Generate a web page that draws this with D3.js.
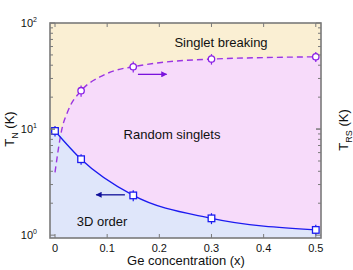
<!DOCTYPE html>
<html>
<head>
<meta charset="utf-8">
<script src="https://cdn.jsdelivr.net/npm/d3@7"></script>
<style>
  body { margin: 0; background: #fff; }
  svg { display: block; font-family: "Liberation Sans", Arial, sans-serif; }
</style>
</head>
<body>
<svg id="chart" width="353" height="270"></svg>
<script>
// measured points
var geX      = [0, 0.05, 0.15, 0.3, 0.5];
var tN       = [9.6, 5.2, 2.37, 1.44, 1.12];
var tNErr    = [1.1, 0.6, 0.28, 0.17, 0.13];
var rsX      = [0.05, 0.15, 0.3, 0.5];
var tRS      = [23, 38.7, 45.7, 48];
var tRSErr   = [2.8, 4.6, 5.2, 5.2];
// dashed guide for T_RS
var rsCurveX = [0, 0.0128, 0.0256, 0.05, 0.086, 0.118, 0.15, 0.2, 0.3, 0.4, 0.5];
var rsCurveY = [3.9, 9.8, 15.1, 23, 31, 36, 38.7, 42.2, 45.7, 47.2, 48];
var xTicks   = [0, 0.1, 0.2, 0.3, 0.4, 0.5];
var yMajor   = [1, 10, 100];
var yExp     = ["0", "1", "2"];

var svg = d3.select("#chart");
var margin = {left: 50, right: 32, top: 23, bottom: 32};
var width = +svg.attr("width"), height = +svg.attr("height");
var x0 = margin.left, x1 = width - margin.right, y0 = margin.top, y1 = height - margin.bottom;

var x = d3.scaleLinear().domain([-0.0096, 0.51]).range([x0, x1]);
var y = d3.scaleLog().domain([0.94, 100]).range([y1, y0]);

var defs = svg.append("defs");
defs.append("clipPath").attr("id", "plotclip")
  .append("rect").attr("x", x0).attr("y", y0).attr("width", x1 - x0).attr("height", y1 - y0);

var plot = svg.append("g").attr("clip-path", "url(#plotclip)");

/*
  background regions
*/
plot.append("rect")
  .attr("x", x0).attr("y", y0)
  .attr("width", x1 - x0).attr("height", y1 - y0)
  .style("fill", "#faefd3");

var rsPts = rsCurveX.map(function(d, i) { return [d, rsCurveY[i]]; });
var rsFill = rsPts.concat([[0.51, 48.1]]);
plot.append("path")
  .datum(rsFill)
  .attr("d", d3.area()
    .x(function(d) { return x(d[0]); })
    .y0(y1)
    .y1(function(d) { return y(d[1]); })
    .curve(d3.curveMonotoneX))
  .style("fill", "#f7dbfa");

var tnPts = geX.map(function(d, i) { return [d, tN[i]]; });
var tnFill = [[-0.0096, tN[0]]].concat(tnPts).concat([[0.51, tN[tN.length - 1]]]);
plot.append("path")
  .datum(tnFill)
  .attr("d", d3.area()
    .x(function(d) { return x(d[0]); })
    .y0(y1)
    .y1(function(d) { return y(d[1]); })
    .curve(d3.curveMonotoneX))
  .style("fill", "#dfe6fa");

/*
  curves
*/
plot.append("path")
  .datum(rsPts)
  .attr("d", d3.line()
    .x(function(d) { return x(d[0]); })
    .y(function(d) { return y(d[1]); })
    .curve(d3.curveMonotoneX))
  .style("fill", "none")
  .style("stroke", "#9b35e3")
  .style("stroke-width", 1.4)
  .style("stroke-dasharray", "6,4");

plot.append("path")
  .datum(tnPts)
  .attr("d", d3.line()
    .x(function(d) { return x(d[0]); })
    .y(function(d) { return y(d[1]); })
    .curve(d3.curveMonotoneX))
  .style("fill", "none")
  .style("stroke", "#1b1bf0")
  .style("stroke-width", 1.3);

/*
  error bars + markers
*/
svg.append("g").selectAll("line")
  .data(geX).enter().append("line")
  .attr("x1", function(d) { return x(d); }).attr("x2", function(d) { return x(d); })
  .attr("y1", function(d, i) { return y(tN[i] + tNErr[i]); })
  .attr("y2", function(d, i) { return y(tN[i] - tNErr[i]); })
  .style("stroke", "#1b1bf0").style("stroke-width", 1.2);

svg.append("g").selectAll("rect")
  .data(geX).enter().append("rect")
  .attr("x", function(d) { return x(d) - 3.3; })
  .attr("y", function(d, i) { return y(tN[i]) - 3.3; })
  .attr("width", 6.6).attr("height", 6.6)
  .style("fill", "#fff").style("stroke", "#1b1bf0").style("stroke-width", 1.3);

svg.append("g").selectAll("line")
  .data(rsX).enter().append("line")
  .attr("x1", function(d) { return x(d); }).attr("x2", function(d) { return x(d); })
  .attr("y1", function(d, i) { return y(tRS[i] + tRSErr[i]); })
  .attr("y2", function(d, i) { return y(tRS[i] - tRSErr[i]); })
  .style("stroke", "#8a1fe6").style("stroke-width", 1.2);

svg.append("g").selectAll("circle")
  .data(rsX).enter().append("circle")
  .attr("cx", function(d) { return x(d); })
  .attr("cy", function(d, i) { return y(tRS[i]); })
  .attr("r", 3.2)
  .style("fill", "#fff").style("stroke", "#8a1fe6").style("stroke-width", 1.3);

/*
  arrows
*/
function arrowHead(id, color) {
  defs.append("marker")
    .attr("id", id)
    .attr("viewBox", "0 0 10 10")
    .attr("refX", 9).attr("refY", 5)
    .attr("markerWidth", 10).attr("markerHeight", 6)
    .attr("markerUnits", "userSpaceOnUse")
    .attr("orient", "auto")
    .append("path").attr("d", "M0,0L10,5L0,10z").style("fill", color);
}
arrowHead("headP", "#7a12dc");
arrowHead("headB", "#10109a");

svg.append("line")
  .attr("x1", x(0.159)).attr("x2", x(0.214))
  .attr("y1", y(32.8)).attr("y2", y(32.8))
  .style("stroke", "#7a12dc").style("stroke-width", 1.3)
  .attr("marker-end", "url(#headP)");

svg.append("line")
  .attr("x1", x(0.134)).attr("x2", x(0.079))
  .attr("y1", y(2.4)).attr("y2", y(2.4))
  .style("stroke", "#10109a").style("stroke-width", 1.3)
  .attr("marker-end", "url(#headB)");

/*
  region labels
*/
svg.append("text").attr("x", 221).attr("y", 47).attr("text-anchor", "middle")
  .style("font-size", "13px").style("fill", "#111").text("Singlet breaking");
svg.append("text").attr("x", 172).attr("y", 139).attr("text-anchor", "middle")
  .style("font-size", "13px").style("fill", "#111").text("Random singlets");
svg.append("text").attr("x", 102).attr("y", 226).attr("text-anchor", "middle")
  .style("font-size", "13px").style("fill", "#111").text("3D order");

/*
  frame and ticks
*/
var axisColor = "#7a7a7a";
var ticks = svg.append("g").style("stroke", axisColor).style("stroke-width", 1);

xTicks.forEach(function(t) {
  ticks.append("line").attr("x1", x(t)).attr("x2", x(t)).attr("y1", y1).attr("y2", y1 - 4);
  ticks.append("line").attr("x1", x(t)).attr("x2", x(t)).attr("y1", y0).attr("y2", y0 + 4);
});

[1, 10].forEach(function(dec) {
  for (var k = 1; k <= 10; k++) {
    var v = dec * k;
    if (v < 0.94 || v > 100) continue;
    var len = (k === 1 || k === 10) ? 5 : 3;
    ticks.append("line").attr("x1", x0).attr("x2", x0 + len).attr("y1", y(v)).attr("y2", y(v));
    ticks.append("line").attr("x1", x1).attr("x2", x1 - len).attr("y1", y(v)).attr("y2", y(v));
  }
});

svg.append("rect")
  .attr("x", x0).attr("y", y0)
  .attr("width", x1 - x0).attr("height", y1 - y0)
  .style("fill", "none").style("stroke", axisColor).style("stroke-width", 1.6);

/*
  tick labels
*/
svg.append("g").selectAll("text")
  .data(xTicks).enter().append("text")
  .attr("x", function(d) { return x(d); })
  .attr("y", 252)
  .attr("text-anchor", "middle")
  .style("font-size", "11px").style("fill", "#111")
  .text(function(d) { return d === 0 ? "0" : d3.format(".1f")(d); });

var yl = svg.append("g").selectAll("text")
  .data(yMajor).enter().append("text")
  .attr("x", 37)
  .attr("y", function(d) { return y(d) + 4; })
  .attr("text-anchor", "end")
  .style("font-size", "11px").style("fill", "#111");
yl.append("tspan").text("10");
yl.append("tspan")
  .attr("dy", -5)
  .style("font-size", "7px")
  .text(function(d, i) { return yExp[i]; });

/*
  axis titles
*/
svg.append("text")
  .attr("x", 186).attr("y", 265).attr("text-anchor", "middle")
  .style("font-size", "13px").style("fill", "#111")
  .text("Ge concentration (x)");

var tl = svg.append("text")
  .attr("transform", "translate(14,129) rotate(-90)")
  .attr("text-anchor", "middle")
  .style("font-size", "13px").style("fill", "#111");
tl.append("tspan").text("T");
tl.append("tspan").attr("dy", 4).style("font-size", "9px").text("N");
tl.append("tspan").attr("dy", -4).text(" (K)");

var tr = svg.append("text")
  .attr("transform", "translate(348,130) rotate(-90)")
  .attr("text-anchor", "middle")
  .style("font-size", "13px").style("fill", "#111");
tr.append("tspan").text("T");
tr.append("tspan").attr("dy", 4).style("font-size", "9px").text("RS");
tr.append("tspan").attr("dy", -4).text(" (K)");
</script>
</body>
</html>
